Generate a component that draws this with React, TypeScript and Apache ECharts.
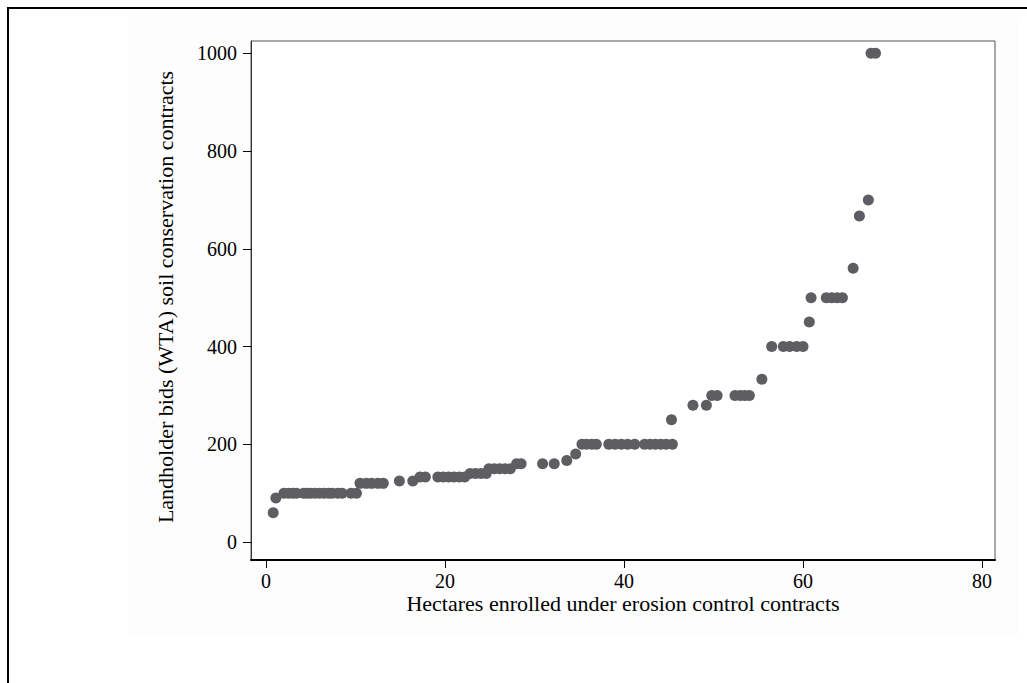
import React, { useEffect, useRef } from "react";
import * as echarts from "echarts";

const hectares: number[] = [
  0.8, 1.1,
  2.0, 2.5, 3.0, 3.4, 4.2, 4.6, 5.0, 5.5, 6.0, 6.5, 7.0, 7.4, 8.0, 8.5, 9.5, 10.1,
  10.5, 11.2, 11.8, 12.5, 13.1,
  14.9, 16.4,
  17.2, 17.8, 19.2, 19.8, 20.4, 21.0, 21.6, 22.2,
  22.8, 23.4, 24.0, 24.6,
  24.9, 25.5, 26.1, 26.7, 27.3,
  28.0, 28.5, 30.9, 32.2,
  33.6, 34.6,
  35.3, 35.8, 36.4, 36.9,
  38.3, 39.0, 39.7, 40.4, 41.2, 42.3, 42.9, 43.5, 44.1, 44.7, 45.4,
  45.3, 47.7, 49.2,
  49.8, 50.4, 52.4, 53.0, 53.5, 54.0,
  55.4,
  56.5, 57.8, 58.5, 59.3, 60.0,
  60.7,
  60.9, 62.6, 63.2, 63.8, 64.4,
  65.6, 66.3, 67.3,
  67.6, 68.1,
];

const bids: number[] = [
  60, 90,
  100, 100, 100, 100, 100, 100, 100, 100, 100, 100, 100, 100, 100, 100, 100, 100,
  120, 120, 120, 120, 120,
  125, 125,
  133, 133, 133, 133, 133, 133, 133, 133,
  140, 140, 140, 140,
  150, 150, 150, 150, 150,
  160, 160, 160, 160,
  167, 180,
  200, 200, 200, 200,
  200, 200, 200, 200, 200, 200, 200, 200, 200, 200, 200,
  250, 280, 280,
  300, 300, 300, 300, 300, 300,
  333,
  400, 400, 400, 400, 400,
  450,
  500, 500, 500, 500, 500,
  560, 667, 700,
  1000, 1000,
];

const xTicks: number[] = [0, 20, 40, 60, 80];
const yTicks: number[] = [0, 200, 400, 600, 800, 1000];

const xTitle = "Hectares enrolled under erosion control contracts";
const yTitle = "Landholder bids (WTA) soil conservation contracts";

export default function App() {
  const ref = useRef<HTMLDivElement>(null);
  useEffect(() => {
    if (!ref.current) return;
    const chart = echarts.init(ref.current, null, { renderer: "svg" });
    const font = "'Liberation Serif', 'Times New Roman', serif";
    const points = hectares.map((h, i) => [h, bids[i]]);
    chart.setOption({
      animation: false,
      backgroundColor: "#ffffff",
      grid: {
        left: 251,
        right: 32,
        top: 41,
        bottom: 123,
        show: true,
        backgroundColor: "#ffffff",
        borderColor: "#555555",
        borderWidth: 1,
      },
      xAxis: {
        type: "value",
        min: -1.68,
        max: 81.45,
        splitLine: { show: false },
        axisLine: { show: true, onZero: false, lineStyle: { color: "#000000", width: 2 } },
        axisTick: { show: true, length: 8, customValues: xTicks, lineStyle: { color: "#000000" } },
        axisLabel: {
          customValues: xTicks,
          formatter: (v: number) => String(v),
          color: "#000000",
          fontFamily: font,
          fontSize: 20,
          margin: 11,
        },
      },
      yAxis: {
        type: "value",
        min: -36.8,
        max: 1025.2,
        splitLine: { show: false },
        axisLine: { show: true, onZero: false, lineStyle: { color: "#333333", width: 1 } },
        axisTick: { show: true, length: 8, customValues: yTicks, lineStyle: { color: "#000000" } },
        axisLabel: {
          customValues: yTicks,
          formatter: (v: number) => String(v),
          color: "#000000",
          fontFamily: font,
          fontSize: 20,
          margin: 14,
        },
      },
      graphic: [
        {
          type: "rect",
          z: -10,
          silent: true,
          shape: { x: 128, y: 17, width: 890, height: 621 },
          style: { fill: "#fdfdfd" },
        },
        {
          type: "line",
          silent: true,
          shape: { x1: 8, y1: 7, x2: 8, y2: 683 },
          style: { stroke: "#000000", lineWidth: 2 },
        },
        {
          type: "line",
          silent: true,
          shape: { x1: 7, y1: 8, x2: 1027, y2: 8 },
          style: { stroke: "#000000", lineWidth: 2 },
        },
        {
          type: "text",
          silent: true,
          x: 623,
          y: 603,
          style: {
            text: xTitle,
            fill: "#000000",
            font: `22px ${font}`,
            align: "center",
            verticalAlign: "middle",
          },
        },
        {
          type: "text",
          silent: true,
          x: 165,
          y: 297,
          rotation: Math.PI / 2,
          style: {
            text: yTitle,
            fill: "#000000",
            font: `22px ${font}`,
            align: "center",
            verticalAlign: "middle",
          },
        },
      ],
      series: [
        {
          type: "scatter",
          data: points,
          symbol: "circle",
          symbolSize: 11,
          itemStyle: { color: "#5e5e62", opacity: 1 },
        },
      ],
    });
    return () => chart.dispose();
  }, []);
  return (
    <div
      ref={ref}
      style={{ position: "fixed", left: 0, top: 0, width: 1027, height: 683 }}
    />
  );
}
